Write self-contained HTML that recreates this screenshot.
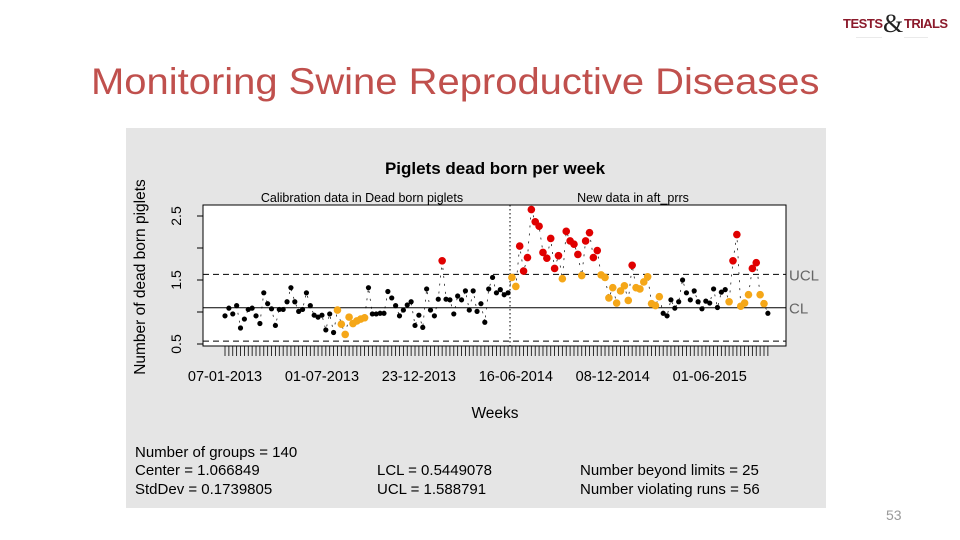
<!DOCTYPE html>
<html><head><meta charset="utf-8"><style>
body{margin:0;width:960px;height:540px;background:#fff;overflow:hidden;position:relative;font-family:"Liberation Sans",sans-serif}
#title{position:absolute;left:91px;top:61px;font-size:37px;color:#c0504d;white-space:nowrap;transform:scaleX(1.08);transform-origin:0 0}
#logo{position:absolute;left:842px;top:8px;width:110px;height:30px}
#pg{position:absolute;left:886px;top:507px;font-size:14px;color:#999}
</style></head><body>
<div id="title">Monitoring Swine Reproductive Diseases</div>
<svg id="logo" width="110" height="30">
<text x="1" y="20" font-size="13" font-weight="bold" fill="#8b1a2b" font-family="Liberation Sans Narrow, Liberation Sans, sans-serif" textLength="40">TESTS</text>
<text x="41" y="24" font-size="26" fill="#222" font-family="Liberation Serif, serif">&amp;</text>
<text x="62" y="20" font-size="13" font-weight="bold" fill="#8b1a2b" font-family="Liberation Sans Narrow, Liberation Sans, sans-serif" textLength="44">TRIALS</text>
<line x1="14" y1="30" x2="40" y2="30" stroke="#aaa" stroke-width="0.6"/>
<line x1="62" y1="30" x2="86" y2="30" stroke="#aaa" stroke-width="0.6"/>
</svg>
<div id="pg">53</div>
<svg id="chart" width="960" height="540" style="position:absolute;left:0;top:0"></svg>
<script>
const calibValues=[0.94,1.06,0.97,1.10,0.75,0.89,1.04,1.06,0.94,0.82,1.30,1.13,1.05,0.79,1.04,1.04,1.16,1.38,1.16,1.01,1.04,1.30,1.10,0.95,0.92,0.95,0.72,0.97,0.68,1.03,0.81,0.65,0.92,0.82,0.86,0.89,0.91,1.38,0.97,0.97,0.98,0.98,1.32,1.22,1.10,0.94,1.03,1.11,1.16,0.79,0.95,0.76,1.36,1.03,0.94,1.20,1.80,1.20,1.19,0.97,1.25,1.19,1.33,1.03,1.33,1.01,1.13,0.84,1.36,1.54,1.30,1.35,1.27,1.30];
const calibStatus=[0,0,0,0,0,0,0,0,0,0,0,0,0,0,0,0,0,0,0,0,0,0,0,0,0,0,0,0,0,1,1,1,1,1,1,1,1,0,0,0,0,0,0,0,0,0,0,0,0,0,0,0,0,0,0,0,2,0,0,0,0,0,0,0,0,0,0,0,0,0,0,0,0,0];
const newValues=[1.54,1.40,2.03,1.64,1.85,2.60,2.41,2.34,1.93,1.84,2.15,1.68,1.88,1.52,2.26,2.11,2.06,1.90,1.57,2.11,2.24,1.85,1.96,1.58,1.54,1.22,1.38,1.14,1.33,1.41,1.18,1.73,1.38,1.36,1.47,1.55,1.13,1.10,1.24,0.98,0.94,1.19,1.06,1.16,1.50,1.30,1.19,1.33,1.16,1.05,1.17,1.14,1.36,1.07,1.31,1.35,1.16,1.80,2.21,1.09,1.14,1.27,1.68,1.77,1.27,1.13,0.98];
const newStatus=[1,1,2,2,2,2,2,2,2,2,2,2,2,1,2,2,2,2,1,2,2,2,2,1,1,1,1,1,1,1,1,2,1,1,1,1,1,1,1,0,0,0,0,0,0,0,0,0,0,0,0,0,0,0,0,0,1,2,2,1,1,1,2,2,1,1,0];
const yTicks=[0.5,1.5,2.5];
const xTickIdx=[0,25,50,75,100,125];
const xTickLabels=["07-01-2013","01-07-2013","23-12-2013","16-06-2014","08-12-2014","01-06-2015"];
const limits={CL:1.066849,UCL:1.588791,LCL:0.5449078};

const values=calibValues.concat(newValues);
const status=calibStatus.concat(newStatus);
const N=values.length;
const svg=document.getElementById('chart');
const NS='http://www.w3.org/2000/svg';
const L=203,R=786,T=205,B=346;
const x0=225,x1=764;
function xs(i){return x0+(x1-x0)*i/139;}
function ys(v){return 312-(v-1)*64;}
function mk(tag,a,p){const e=document.createElementNS(NS,tag);for(const k in a)e.setAttribute(k,a[k]);(p||svg).appendChild(e);return e;}
function tx(s,a){const e=mk('text',a);e.textContent=s;return e;}

const bg=mk('rect',{x:126,y:128,width:700,height:380,fill:'#e5e5e5'});


const pb=mk('rect',{x:L,y:T,width:R-L,height:B-T,fill:'#fff',stroke:'#000','stroke-width':1});



let t=tx('Piglets dead born per week',{x:495,y:174,'font-size':17,'font-weight':'bold','text-anchor':'middle',fill:'#000'});


t=tx('Calibration data in Dead born piglets',{x:362,y:202,'font-size':12.5,'text-anchor':'middle'});


t=tx('New data in aft_prrs',{x:633,y:202,'font-size':12.5,'text-anchor':'middle'});



yTicks.forEach(v=>{
  const l=mk('line',{x1:L-6,x2:L,y1:ys(v),y2:ys(v),stroke:'#000'});
  
  
  const e=tx(String(v),{x:0,y:0,'font-size':14,'text-anchor':'middle',transform:`translate(181,${ys(v)}) rotate(-90)`});
  
  
});
[1.0,2.0].forEach(v=>{const l=mk('line',{x1:L-6,x2:L,y1:ys(v),y2:ys(v),stroke:'#000'});
  
  });
t=tx('Number of dead born piglets',{x:0,y:0,'font-size':15.5,'text-anchor':'middle',transform:'translate(145,277) rotate(-90)'});



for(let i=0;i<N;i++){const l=mk('line',{x1:xs(i),x2:xs(i),y1:B,y2:B+10,stroke:'#000','stroke-width':0.8});
  
  }
xTickIdx.forEach((i,k)=>{const e=tx(xTickLabels[k],{x:xs(i),y:381,'font-size':14.5,'text-anchor':'middle'});
  
  });
t=tx('Weeks',{x:495,y:418,'font-size':15.5,'text-anchor':'middle'});



[['UCL',limits.UCL,'6,4'],['LCL',limits.LCL,'6,4'],['CL',limits.CL,null]].forEach(([n,v,d])=>{
  const a={x1:L,x2:R,y1:ys(v),y2:ys(v),stroke:'#000','stroke-width':1};if(d)a['stroke-dasharray']=d;
  const l=mk('line',a);
  
  
  if(n!=='LCL'){const e=tx(n,{x:789,y:ys(v)+6,'font-size':15,fill:'#666'});
    
    }
});
const sep=xs(calibValues.length-0.5);
const vl=mk('line',{x1:sep,x2:sep,y1:T,y2:B,stroke:'#000','stroke-dasharray':'1.5,2.5'});



let pts=values.map((v,i)=>xs(i)+','+ys(v)).join(' ');
const pl=mk('polyline',{points:pts,fill:'none',stroke:'#000','stroke-width':0.7,'stroke-dasharray':'2,6'});


values.forEach((v,i)=>{
  const s=status[i];
  const c=mk('circle',{cx:xs(i),cy:ys(v),r:s?3.8:2.6,fill:s===2?'#e00000':s===1?'#f5a718':'#000'});
  
  
});

const stats=[['Number of groups = 140',135,457],['Center = 1.066849',135,475],['StdDev = 0.1739805',135,494],
['LCL = 0.5449078',377,475],['UCL = 1.588791',377,494],['Number beyond limits = 25',580,475],['Number violating runs = 56',580,494]];
stats.forEach(s=>{const e=tx(s[0],{x:s[1],y:s[2],'font-size':15});
  
  });
</script>
</body></html>
